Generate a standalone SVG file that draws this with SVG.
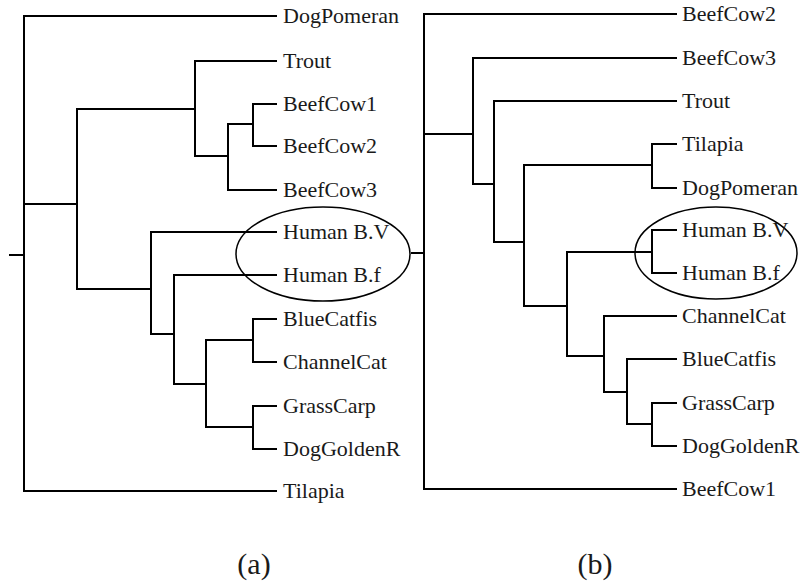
<svg xmlns="http://www.w3.org/2000/svg" width="801" height="583" viewBox="0 0 801 583">
<style>
.e{fill:none;stroke:#000;stroke-width:2;stroke-linecap:square}
.o{fill:none;stroke:#000;stroke-width:1.5}
text{font-family:"Liberation Serif","Times New Roman",serif;font-size:22px;fill:#1a1a1a}
.cap{font-size:30px}
</style>
<rect width="801" height="583" fill="#fff"/>
<g id="connectors">
<!-- tree a -->
<path class="e" d="M10 255H24M24 16V491M24 16H276M24 491H276M24 204H77M77 109V289M77 109H195M195 61V156M195 61H276M195 156H228M228 124V190M228 190H276M228 124H253M253 104V146M253 104H276M253 146H276M77 289H151M151 232V334M151 232H276M151 334H174M174 275V384M174 275H276M174 384H206M206 340V427M206 340H253M253 319V362M253 319H276M253 362H276M206 427H253M253 406V449M253 406H276M253 449H276"/>
<!-- tree b -->
<path class="e" d="M412 253H424M424 14V489M424 14H676M424 489H676M424 134H473M473 58V184M473 58H676M473 184H494M494 101V242M494 101H676M494 242H524M524 165V306M524 165H652M652 144V188M652 144H676M652 188H676M524 306H567M567 252V356M567 252H652M652 230V273M652 230H676M652 273H676M567 356H604M604 316V392M604 316H676M604 392H627M627 359V424M627 359H676M627 424H652M652 403V446M652 403H676M652 446H676"/>
</g>
<g id="highlight-a"><ellipse class="o" cx="323" cy="254" rx="87" ry="47"/></g>
<g id="highlight-b"><ellipse class="o" cx="716" cy="253" rx="81" ry="46"/></g>
<g id="leaves-a">
<g id="a-DogPomeran"><text x="283" y="23">DogPomeran</text></g>
<g id="a-Trout"><text x="283" y="68">Trout</text></g>
<g id="a-BeefCow1"><text x="283" y="111">BeefCow1</text></g>
<g id="a-BeefCow2"><text x="283" y="153">BeefCow2</text></g>
<g id="a-BeefCow3"><text x="283" y="197">BeefCow3</text></g>
<g id="a-HumanBV"><text x="283" y="239">Human B.V</text></g>
<g id="a-HumanBf"><text x="283" y="282">Human B.f</text></g>
<g id="a-BlueCatfis"><text x="283" y="326">BlueCatfis</text></g>
<g id="a-ChannelCat"><text x="283" y="369">ChannelCat</text></g>
<g id="a-GrassCarp"><text x="283" y="413">GrassCarp</text></g>
<g id="a-DogGoldenR"><text x="283" y="456">DogGoldenR</text></g>
<g id="a-Tilapia"><text x="283" y="498">Tilapia</text></g>
</g>
<g id="leaves-b">
<g id="b-BeefCow2"><text x="682" y="21">BeefCow2</text></g>
<g id="b-BeefCow3"><text x="682" y="65">BeefCow3</text></g>
<g id="b-Trout"><text x="682" y="108">Trout</text></g>
<g id="b-Tilapia"><text x="682" y="151">Tilapia</text></g>
<g id="b-DogPomeran"><text x="682" y="195">DogPomeran</text></g>
<g id="b-HumanBV"><text x="682" y="237">Human B.V</text></g>
<g id="b-HumanBf"><text x="682" y="280">Human B.f</text></g>
<g id="b-ChannelCat"><text x="682" y="323">ChannelCat</text></g>
<g id="b-BlueCatfis"><text x="682" y="366">BlueCatfis</text></g>
<g id="b-GrassCarp"><text x="682" y="410">GrassCarp</text></g>
<g id="b-DogGoldenR"><text x="682" y="453">DogGoldenR</text></g>
<g id="b-BeefCow1"><text x="682" y="496">BeefCow1</text></g>
</g>
<g id="captions">
<text class="cap" x="254" y="574" text-anchor="middle">(a)</text>
<text class="cap" x="595" y="574" text-anchor="middle">(b)</text>
</g>
</svg>
